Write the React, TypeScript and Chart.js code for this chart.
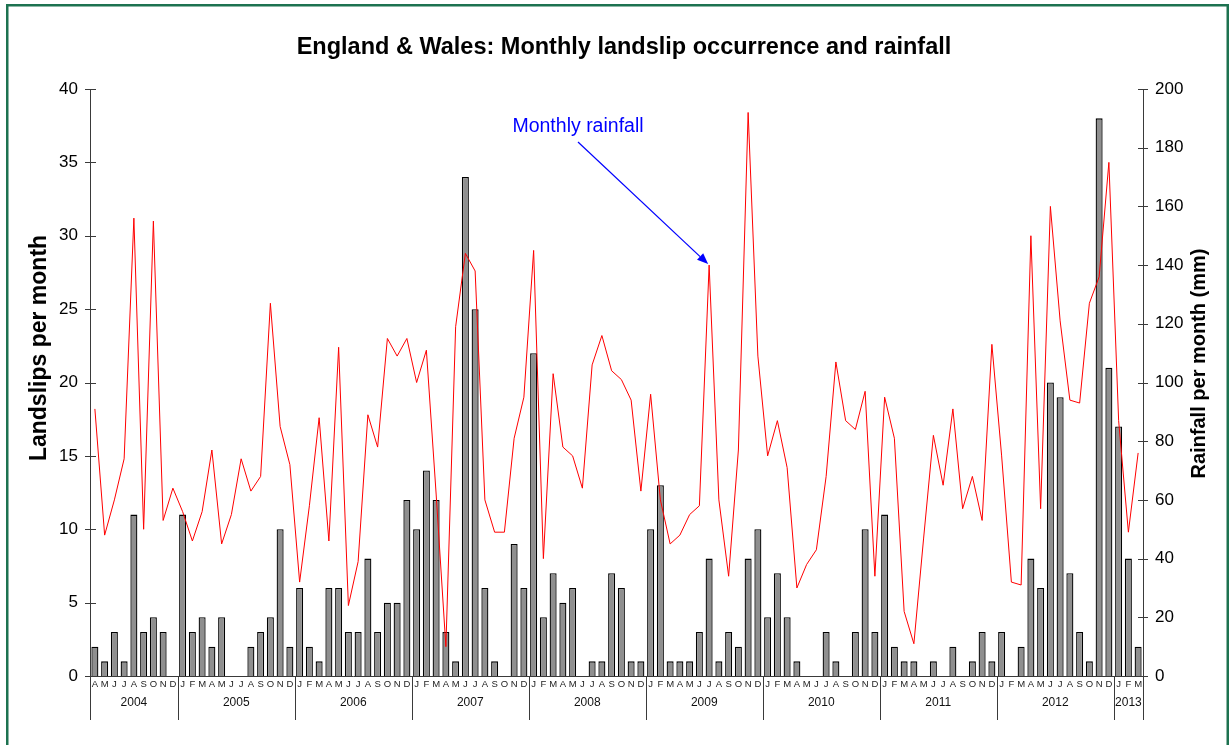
import React, { useEffect, useRef } from 'react';
import { Chart, registerables } from 'chart.js';

Chart.register(...registerables);

// Month letters, April 2004 – March 2013
const monthLabels = [
  'A', 'M', 'J', 'J', 'A', 'S', 'O', 'N', 'D',
  'J', 'F', 'M', 'A', 'M', 'J', 'J', 'A', 'S', 'O', 'N', 'D',
  'J', 'F', 'M', 'A', 'M', 'J', 'J', 'A', 'S', 'O', 'N', 'D',
  'J', 'F', 'M', 'A', 'M', 'J', 'J', 'A', 'S', 'O', 'N', 'D',
  'J', 'F', 'M', 'A', 'M', 'J', 'J', 'A', 'S', 'O', 'N', 'D',
  'J', 'F', 'M', 'A', 'M', 'J', 'J', 'A', 'S', 'O', 'N', 'D',
  'J', 'F', 'M', 'A', 'M', 'J', 'J', 'A', 'S', 'O', 'N', 'D',
  'J', 'F', 'M', 'A', 'M', 'J', 'J', 'A', 'S', 'O', 'N', 'D',
  'J', 'F', 'M', 'A', 'M', 'J', 'J', 'A', 'S', 'O', 'N', 'D',
  'J', 'F', 'M',
];

const yearLabels = ['2004', '2005', '2006', '2007', '2008', '2009', '2010', '2011', '2012', '2013'];
const monthsInYear = [9, 12, 12, 12, 12, 12, 12, 12, 12, 3];

// Landslips per month
const landslips = [
  2, 1, 3, 1, 11, 3, 4, 3, 0,
  11, 3, 4, 2, 4, 0, 0, 2, 3, 4, 10, 2,
  6, 2, 1, 6, 6, 3, 3, 8, 3, 5, 5, 12,
  10, 14, 12, 3, 1, 34, 25, 6, 1, 0, 9, 6,
  22, 4, 7, 5, 6, 0, 1, 1, 7, 6, 1, 1,
  10, 13, 1, 1, 1, 3, 8, 1, 3, 2, 8, 10,
  4, 7, 4, 1, 0, 0, 3, 1, 0, 3, 10, 3,
  11, 2, 1, 1, 0, 1, 0, 2, 0, 1, 3, 1,
  3, 0, 2, 8, 6, 20, 19, 7, 3, 1, 38, 21,
  17, 8, 2,
];

// Rainfall per month (mm)
const rainfall = [
  91, 48, 60, 74, 156, 50, 155, 53, 64,
  56, 46, 56, 77, 45, 55, 74, 63, 68, 127, 85, 72,
  32, 58, 88, 46, 112, 24, 39, 89, 78, 115, 109, 115,
  100, 111, 62, 10, 119, 144, 138, 60, 49, 49, 81, 95,
  145, 40, 103, 78, 75, 64, 106, 116, 104, 101, 94, 63,
  96, 60, 45, 48, 55, 58, 140, 60, 34, 77, 192, 109,
  75, 87, 71, 30, 38, 43, 68, 107, 87, 84, 97, 34,
  95, 81, 22, 11, 47, 82, 65, 91, 57, 68, 53, 113,
  75, 32, 31, 150, 57, 160, 121, 94, 93, 127, 136, 175,
  87, 49, 76,
];

const leftTicks = [0, 5, 10, 15, 20, 25, 30, 35, 40];
const rightTicks = [0, 20, 40, 60, 80, 100, 120, 140, 160, 180, 200];

const annotationText = 'Monthly rainfall';
const annotationIndex = 63; // July 2009

const TITLE = 'England & Wales: Monthly landslip occurrence and rainfall';
const LEFT_TITLE = 'Landslips per month';
const RIGHT_TITLE = 'Rainfall per month (mm)';

const FONT = '"Liberation Sans", Arial, Helvetica, sans-serif';
const AXIS = '#3a3a3a';

export default function App() {
  const ref = useRef<HTMLCanvasElement>(null);

  useEffect(() => {
    document.body.style.margin = '0';
    const canvas = ref.current;
    if (!canvas) return;

    const decor = {
      id: 'decor',
      beforeDraw(chart: any) {
        const ctx = chart.ctx;
        ctx.save();
        ctx.fillStyle = '#ffffff';
        ctx.fillRect(0, 0, chart.width, chart.height);
        ctx.strokeStyle = '#1d7250';
        ctx.lineWidth = 2.5;
        ctx.strokeRect(7.25, 5.25, 1220.5, 800);
        ctx.restore();
      },
      afterDraw(chart: any) {
        const ctx = chart.ctx;
        const area = chart.chartArea;
        const xs = chart.scales.x;
        const yl = chart.scales.y;
        const yr = chart.scales.y1;
        ctx.save();

        // Title
        ctx.fillStyle = '#000';
        ctx.font = `bold 23.5px ${FONT}`;
        ctx.textAlign = 'center';
        ctx.textBaseline = 'alphabetic';
        ctx.fillText(TITLE, 624, 54);

        // Axis titles
        ctx.textBaseline = 'middle';
        ctx.save();
        ctx.translate(40, 348);
        ctx.rotate(-Math.PI / 2);
        ctx.font = `bold 23px ${FONT}`;
        ctx.fillText(LEFT_TITLE, 0, 0);
        ctx.restore();
        ctx.save();
        ctx.translate(1199, 363.5);
        ctx.rotate(-Math.PI / 2);
        ctx.font = `bold 20px ${FONT}`;
        ctx.fillText(RIGHT_TITLE, 0, 0);
        ctx.restore();

        // Crossing tick marks
        ctx.strokeStyle = AXIS;
        ctx.lineWidth = 1;
        ctx.beginPath();
        for (const t of yl.ticks) {
          const y = Math.round(yl.getPixelForValue(t.value)) + 0.5;
          ctx.moveTo(area.left - 5, y);
          ctx.lineTo(area.left + 6, y);
        }
        for (const t of yr.ticks) {
          const y = Math.round(yr.getPixelForValue(t.value)) + 0.5;
          ctx.moveTo(area.right - 5, y);
          ctx.lineTo(area.right + 5, y);
        }
        ctx.stroke();

        // Year groups
        const half = (xs.getPixelForValue(1) - xs.getPixelForValue(0)) / 2;
        const divBottom = area.bottom + 44;
        ctx.font = `12px ${FONT}`;
        ctx.fillStyle = '#111';
        ctx.textAlign = 'center';
        ctx.textBaseline = 'middle';
        let start = 0;
        ctx.beginPath();
        for (let g = 0; g < yearLabels.length; g++) {
          const n = monthsInYear[g];
          const left = xs.getPixelForValue(start) - half;
          const right = xs.getPixelForValue(start + n - 1) + half;
          const lx = Math.round(left) + 0.5;
          ctx.moveTo(lx, area.bottom);
          ctx.lineTo(lx, divBottom);
          if (g === yearLabels.length - 1) {
            const rx = Math.round(right) + 0.5;
            ctx.moveTo(rx, area.bottom);
            ctx.lineTo(rx, divBottom);
          }
          ctx.fillText(yearLabels[g], (left + right) / 2, area.bottom + 27);
          start += n;
        }
        ctx.stroke();

        // Annotation
        ctx.fillStyle = '#0000ff';
        ctx.strokeStyle = '#0000ff';
        ctx.font = `19.5px ${FONT}`;
        ctx.textAlign = 'center';
        ctx.textBaseline = 'alphabetic';
        ctx.fillText(annotationText, 578, 132);
        const tx = xs.getPixelForValue(annotationIndex) - 1;
        const ty = yr.getPixelForValue(rainfall[annotationIndex]) - 1;
        const sx = 578;
        const sy = 142;
        const ang = Math.atan2(ty - sy, tx - sx);
        const hl = 11;
        const hw = 4.5;
        const bx = tx - hl * Math.cos(ang);
        const by = ty - hl * Math.sin(ang);
        ctx.lineWidth = 1.2;
        ctx.beginPath();
        ctx.moveTo(sx, sy);
        ctx.lineTo(bx, by);
        ctx.stroke();
        ctx.beginPath();
        ctx.moveTo(tx, ty);
        ctx.lineTo(bx + hw * Math.sin(ang), by - hw * Math.cos(ang));
        ctx.lineTo(bx - hw * Math.sin(ang), by + hw * Math.cos(ang));
        ctx.closePath();
        ctx.fill();

        ctx.restore();
      },
    };

    const chart = new Chart(canvas, {
      type: 'bar',
      data: {
        labels: monthLabels,
        datasets: [
          {
            type: 'line',
            label: 'Rainfall',
            data: rainfall,
            yAxisID: 'y1',
            borderColor: '#ff0000',
            borderWidth: 1,
            pointRadius: 0,
            tension: 0,
            fill: false,
            order: 0,
          } as any,
          {
            type: 'bar',
            label: 'Landslips',
            data: landslips,
            yAxisID: 'y',
            backgroundColor: '#8f8f8f',
            borderColor: '#000000',
            borderWidth: 1.3,
            barPercentage: 0.72,
            categoryPercentage: 1,
            order: 1,
          },
        ],
      },
      options: {
        responsive: false,
        animation: false,
        events: [],
        layout: { padding: { top: 89, left: 0, right: 0, bottom: 0 } },
        plugins: {
          legend: { display: false },
          tooltip: { enabled: false },
          title: { display: false },
        },
        scales: {
          x: {
            type: 'category',
            offset: true,
            grid: { display: false, drawTicks: false, tickLength: 0 },
            border: { display: true, color: AXIS, width: 1 },
            ticks: {
              autoSkip: false,
              maxRotation: 0,
              minRotation: 0,
              padding: 3,
              color: '#222',
              font: { family: FONT, size: 9.5 },
            },
            afterFit: (s: any) => {
              s.height = 69;
            },
          },
          y: {
            position: 'left',
            min: 0,
            max: 40,
            afterBuildTicks: (s: any) => {
              s.ticks = leftTicks.map((v) => ({ value: v }));
            },
            grid: { display: false, drawTicks: false, tickLength: 0 },
            border: { display: true, color: AXIS, width: 1 },
            ticks: {
              padding: 12,
              color: '#000',
              font: { family: FONT, size: 17 },
            },
            afterFit: (s: any) => {
              s.width = 90;
            },
          },
          y1: {
            position: 'right',
            min: 0,
            max: 200,
            afterBuildTicks: (s: any) => {
              s.ticks = rightTicks.map((v) => ({ value: v }));
            },
            grid: { display: false, drawTicks: false, tickLength: 0 },
            border: { display: true, color: AXIS, width: 1 },
            ticks: {
              padding: 12,
              color: '#000',
              font: { family: FONT, size: 17 },
            },
            afterFit: (s: any) => {
              s.width = 88;
            },
          },
        },
      },
      plugins: [decor],
    });

    return () => {
      chart.destroy();
    };
  }, []);

  return (
    <div style={{ position: 'absolute', left: 0, top: 0, width: 1231, height: 745 }}>
      <canvas ref={ref} width={1231} height={745} style={{ display: 'block' }} />
    </div>
  );
}
